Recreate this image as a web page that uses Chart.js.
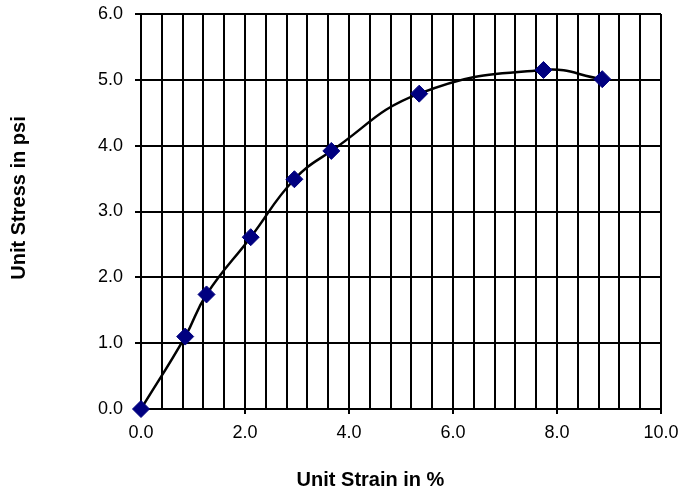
<!DOCTYPE html>
<html>
<head>
<meta charset="utf-8">
<script src="https://cdn.jsdelivr.net/npm/chart.js@4/dist/chart.umd.min.js"></script>
<style>
  html, body { margin: 0; padding: 0; background: #ffffff; }
  #wrap { width: 681px; height: 492px; position: relative; }
</style>
</head>
<body>
<div id="wrap"><canvas id="c" width="681" height="492"></canvas></div>
<script>
// Data
const strainPct = [0.0, 0.85, 1.26, 2.11, 2.95, 3.66, 5.35, 7.74, 8.87];
const stressPsi = [0.0, 1.10, 1.74, 2.61, 3.49, 3.92, 4.79, 5.15, 5.01];
const xAxisTitle = 'Unit Strain in %';
const yAxisTitle = 'Unit Stress in psi';

const points = strainPct.map((x, i) => ({ x: x, y: stressPsi[i] }));

const isMajorX = v => Math.abs(v / 2 - Math.round(v / 2)) < 1e-6;

const titlePlugin = {
  id: 'axisTitles',
  afterDraw(chart) {
    const ctx = chart.ctx;
    ctx.save();
    ctx.fillStyle = '#000';
    ctx.font = 'bold 20px "Liberation Sans", Arial, sans-serif';
    ctx.textAlign = 'center';
    ctx.textBaseline = 'middle';
    ctx.fillText(xAxisTitle, 370.5, 480);
    ctx.translate(19, 198);
    ctx.rotate(-Math.PI / 2);
    ctx.fillText(yAxisTitle, 0, 0);
    ctx.restore();
  }
};

function noPad(scale) {
  scale.paddingLeft = 0; scale.paddingRight = 0;
  scale.paddingTop = 0; scale.paddingBottom = 0;
}

new Chart(document.getElementById('c'), {
  type: 'scatter',
  data: {
    datasets: [{
      data: points,
      showLine: true,
      tension: 0.45,
      borderColor: '#000000',
      borderWidth: 2.5,
      pointStyle: 'rectRot',
      pointRadius: 8.5,
      pointHoverRadius: 8.5,
      pointBackgroundColor: '#000080',
      pointBorderColor: '#000080',
      pointBorderWidth: 1,
      clip: false
    }]
  },
  options: {
    responsive: false,
    animation: false,
    devicePixelRatio: 1,
    layout: { padding: { top: 14, right: 20, bottom: 0, left: 0 } },
    plugins: { legend: { display: false }, tooltip: { enabled: false } },
    scales: {
      x: {
        type: 'linear',
        min: 0, max: 10,
        afterFit(scale) { scale.height = 83; noPad(scale); },
        ticks: {
          stepSize: 0.4,
          autoSkip: false,
          maxRotation: 0,
          padding: 8,
          color: '#000',
          font: { family: '"Liberation Sans", Arial, sans-serif', size: 18 },
          callback: v => isMajorX(v) ? (Math.round(v * 10) / 10).toFixed(1) : ''
        },
        grid: {
          color: '#000',
          lineWidth: 2,
          tickLength: 5,
          tickColor: c => (c.tick && isMajorX(c.tick.value)) ? '#000' : 'rgba(0,0,0,0)'
        },
        border: { color: '#000', width: 2 }
      },
      y: {
        type: 'linear',
        min: 0, max: 6,
        afterFit(scale) { scale.width = 141; noPad(scale); },
        ticks: {
          stepSize: 1,
          padding: 12,
          color: '#000',
          font: { family: '"Liberation Sans", Arial, sans-serif', size: 18 },
          callback: v => Number(v).toFixed(1)
        },
        grid: { color: '#000', lineWidth: 2, tickLength: 6 },
        border: { color: '#000', width: 2 }
      }
    }
  },
  plugins: [titlePlugin]
});
</script>
</body>
</html>
